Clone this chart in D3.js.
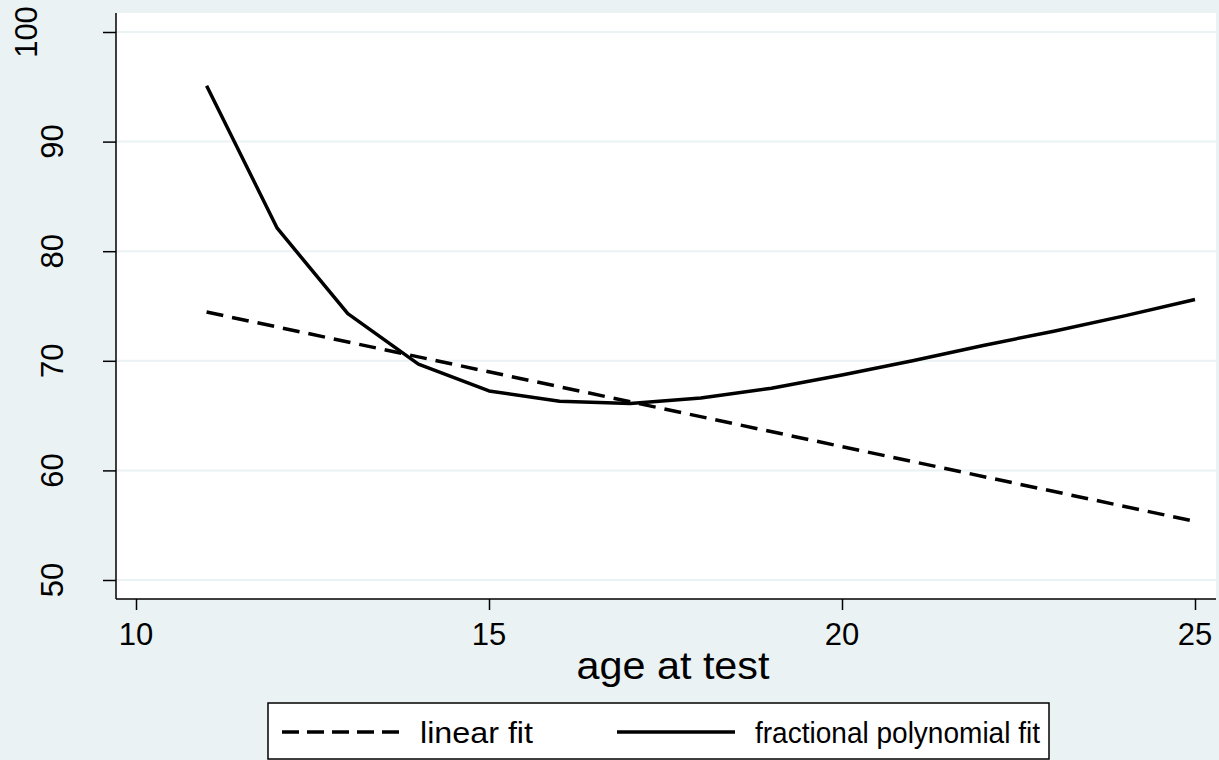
<!DOCTYPE html>
<html>
<head>
<meta charset="utf-8">
<script src="https://cdn.jsdelivr.net/npm/d3@7"></script>
<style>
  body { margin: 0; background: #eaf2f3; }
  svg text { font-family: "Liberation Sans", Arial, sans-serif; fill: #000; }
</style>
</head>
<body>
<svg id="chart" width="1219" height="760"></svg>
<script>
// ages at test
const ages = [11, 12, 13, 14, 15, 16, 17, 18, 19, 20, 21, 22, 23, 24, 25];
// fractional polynomial fit values
const fpFit = [95.1, 82.1, 74.3, 69.7, 67.25, 66.3, 66.1, 66.6, 67.5, 68.7, 70.0, 71.4, 72.7, 74.1, 75.6];
// linear fit (end points of the straight line)
const linAges = [11, 25];
const linFit = [74.45, 55.35];

const xTicks = [10, 15, 20, 25];
const yTicks = [50, 60, 70, 80, 90, 100];
const legendLabels = ["linear fit", "fractional polynomial fit"];

const svg = d3.select("#chart");
const bg = "#eaf2f3";

// plot region
const plot = { left: 116, right: 1216, top: 13, bottom: 599 };

const x = d3.scaleLinear().domain([10, 25]).range([136, 1195]);
const y = d3.scaleLinear().domain([50, 100]).range([580, 32]);

svg.append("rect")
  .attr("width", 1219).attr("height", 760)
  .attr("fill", bg);

svg.append("rect")
  .attr("x", plot.left).attr("y", plot.top)
  .attr("width", plot.right - plot.left)
  .attr("height", plot.bottom - plot.top)
  .attr("fill", "#fff");

// gridlines
svg.append("g").selectAll("line").data(yTicks)
  .enter().append("line")
    .attr("x1", plot.left).attr("x2", plot.right)
    .attr("y1", d => y(d)).attr("y2", d => y(d))
    .attr("stroke", bg).attr("stroke-width", 2);

// y axis
const yAxis = svg.append("g")
  .attr("transform", `translate(${plot.left},0)`)
  .call(d3.axisLeft(y).tickValues(yTicks).tickSize(13).tickFormat(""));
yAxis.select(".domain").remove();
yAxis.selectAll("line").attr("stroke", "#000").attr("stroke-width", 1.5);
svg.append("line")
  .attr("x1", plot.left).attr("x2", plot.left)
  .attr("y1", plot.top).attr("y2", plot.bottom)
  .attr("stroke", "#000").attr("stroke-width", 1.5);

svg.append("g").selectAll("text").data(yTicks)
  .enter().append("text")
    .attr("transform", d => `translate(${d >= 100 ? 37 : 63},${y(d)}) rotate(-90)`)
    .attr("text-anchor", "middle")
    .style("font-size", "31px")
    .text(d => d);

// x axis
const xAxis = svg.append("g")
  .attr("transform", `translate(0,${plot.bottom})`)
  .call(d3.axisBottom(x).tickValues(xTicks).tickSize(11).tickFormat(""));
xAxis.select(".domain").remove();
xAxis.selectAll("line").attr("stroke", "#000").attr("stroke-width", 1.5);
svg.append("line")
  .attr("x1", plot.left).attr("x2", plot.right)
  .attr("y1", plot.bottom).attr("y2", plot.bottom)
  .attr("stroke", "#000").attr("stroke-width", 1.5);

svg.append("g").selectAll("text").data(xTicks)
  .enter().append("text")
    .attr("x", d => x(d)).attr("y", 645)
    .attr("text-anchor", "middle")
    .style("font-size", "31px")
    .text(d => d);

svg.append("text")
  .attr("x", 673).attr("y", 679)
  .attr("text-anchor", "middle")
  .attr("textLength", 193).attr("lengthAdjust", "spacingAndGlyphs")
  .style("font-size", "38px")
  .text("age at test");

// fitted lines
const line = d3.line().x(d => x(d[0])).y(d => y(d[1]));

svg.append("path")
  .datum(linAges.map((a, i) => [a, linFit[i]]))
  .attr("d", line)
  .attr("fill", "none").attr("stroke", "#000")
  .attr("stroke-width", 3.5)
  .attr("stroke-dasharray", "17,9");

svg.append("path")
  .datum(ages.map((a, i) => [a, fpFit[i]]))
  .attr("d", line)
  .attr("fill", "none").attr("stroke", "#000")
  .attr("stroke-width", 3.5)
  .attr("stroke-linejoin", "round");

// legend
const lg = svg.append("g");
lg.append("rect")
  .attr("x", 268).attr("y", 703)
  .attr("width", 781).attr("height", 56)
  .attr("fill", "#fff").attr("stroke", "#000").attr("stroke-width", 1.5);

const items = [
  { x1: 282, x2: 400, tx: 420, w: 113, dash: "17,8" },
  { x1: 617, x2: 735, tx: 755, w: 285, dash: null }
];
items.forEach((it, i) => {
  lg.append("line")
    .attr("x1", it.x1).attr("x2", it.x2)
    .attr("y1", 732).attr("y2", 732)
    .attr("stroke", "#000").attr("stroke-width", 3.5)
    .attr("stroke-dasharray", it.dash);
  lg.append("text")
    .attr("x", it.tx).attr("y", 743)
    .attr("textLength", it.w).attr("lengthAdjust", "spacingAndGlyphs")
    .style("font-size", "30px")
    .text(legendLabels[i]);
});
</script>
</body>
</html>
